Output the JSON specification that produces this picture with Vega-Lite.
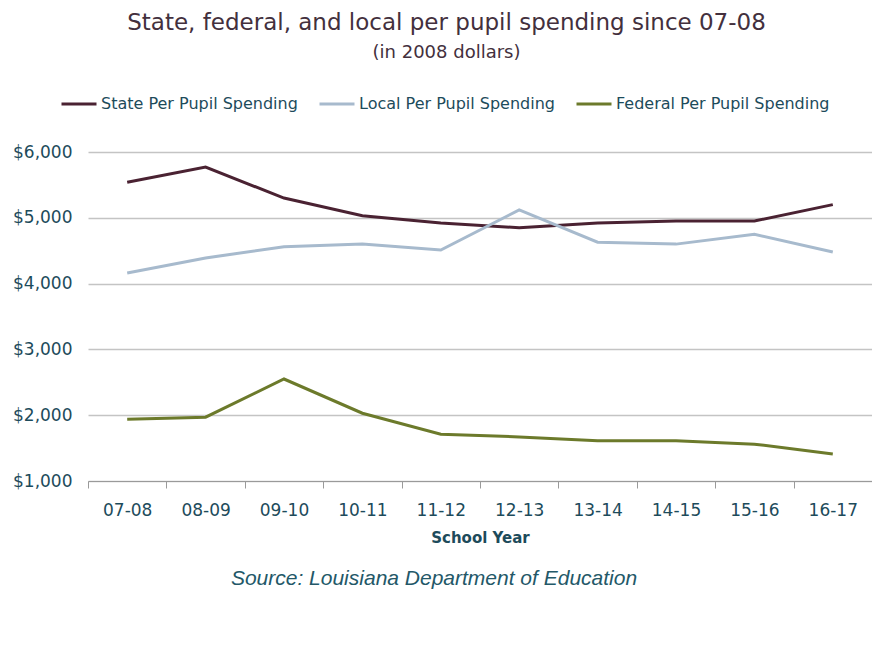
{
  "$schema": "https://vega.github.io/schema/vega-lite/v6.json",
  "background": "white",
  "padding": {"left": 12, "top": 12, "right": 0, "bottom": 0},
  "title": {
    "text": "State, federal, and local per pupil spending since 07-08",
    "subtitle": "(in 2008 dollars)",
    "font": "DejaVu Sans",
    "fontSize": 23,
    "fontWeight": "normal",
    "color": "#43303d",
    "subtitleFont": "DejaVu Sans",
    "subtitleFontSize": 18,
    "subtitleColor": "#43303d",
    "subtitlePadding": 9,
    "anchor": "middle",
    "dx": 4,
    "offset": 23
  },
  "config": {
    "view": {"stroke": null},
    "font": "DejaVu Sans"
  },
  "spacing": 14,
  "vconcat": [
    {
      "width": 784,
      "height": 329,
      "data": {
        "values": [
          {"year": "07-08", "series": "State Per Pupil Spending", "value": 5540},
          {"year": "08-09", "series": "State Per Pupil Spending", "value": 5770},
          {"year": "09-10", "series": "State Per Pupil Spending", "value": 5300},
          {"year": "10-11", "series": "State Per Pupil Spending", "value": 5030},
          {"year": "11-12", "series": "State Per Pupil Spending", "value": 4920},
          {"year": "12-13", "series": "State Per Pupil Spending", "value": 4850},
          {"year": "13-14", "series": "State Per Pupil Spending", "value": 4920},
          {"year": "14-15", "series": "State Per Pupil Spending", "value": 4950},
          {"year": "15-16", "series": "State Per Pupil Spending", "value": 4950},
          {"year": "16-17", "series": "State Per Pupil Spending", "value": 5200},
          {"year": "07-08", "series": "Local Per Pupil Spending", "value": 4160},
          {"year": "08-09", "series": "Local Per Pupil Spending", "value": 4390},
          {"year": "09-10", "series": "Local Per Pupil Spending", "value": 4560},
          {"year": "10-11", "series": "Local Per Pupil Spending", "value": 4600},
          {"year": "11-12", "series": "Local Per Pupil Spending", "value": 4510},
          {"year": "12-13", "series": "Local Per Pupil Spending", "value": 5120},
          {"year": "13-14", "series": "Local Per Pupil Spending", "value": 4630},
          {"year": "14-15", "series": "Local Per Pupil Spending", "value": 4600},
          {"year": "15-16", "series": "Local Per Pupil Spending", "value": 4750},
          {"year": "16-17", "series": "Local Per Pupil Spending", "value": 4480},
          {"year": "07-08", "series": "Federal Per Pupil Spending", "value": 1940},
          {"year": "08-09", "series": "Federal Per Pupil Spending", "value": 1970},
          {"year": "09-10", "series": "Federal Per Pupil Spending", "value": 2550},
          {"year": "10-11", "series": "Federal Per Pupil Spending", "value": 2030},
          {"year": "11-12", "series": "Federal Per Pupil Spending", "value": 1710},
          {"year": "12-13", "series": "Federal Per Pupil Spending", "value": 1670},
          {"year": "13-14", "series": "Federal Per Pupil Spending", "value": 1610},
          {"year": "14-15", "series": "Federal Per Pupil Spending", "value": 1610},
          {"year": "15-16", "series": "Federal Per Pupil Spending", "value": 1560},
          {"year": "16-17", "series": "Federal Per Pupil Spending", "value": 1410}
        ]
      },
      "mark": {"type": "line", "strokeWidth": 3},
      "encoding": {
        "x": {
          "field": "year",
          "type": "ordinal",
          "sort": null,
          "title": "School Year",
          "axis": {
            "labelAngle": 0,
            "labelFont": "DejaVu Sans",
            "labelFontSize": 17,
            "labelColor": "#1d4b5b",
            "labelPadding": 14,
            "domainColor": "#9a9a9a",
            "tickColor": "#9a9a9a",
            "tickSize": 7,
            "tickBand": "extent",
            "titleFont": "DejaVu Sans",
            "titleFontSize": 15,
            "titleFontWeight": "bold",
            "titleColor": "#1d4b5b",
            "titlePadding": 12
          }
        },
        "y": {
          "field": "value",
          "type": "quantitative",
          "scale": {"domain": [1000, 6000]},
          "title": null,
          "axis": {
            "values": [1000, 2000, 3000, 4000, 5000, 6000],
            "format": "$,.0f",
            "labelFont": "DejaVu Sans",
            "labelFontSize": 17,
            "labelColor": "#1d4b5b",
            "labelPadding": 16,
            "domain": false,
            "ticks": false,
            "gridColor": "#c4c4c4",
            "gridWidth": 1.5
          }
        },
        "color": {
          "field": "series",
          "type": "nominal",
          "scale": {
            "domain": ["State Per Pupil Spending", "Local Per Pupil Spending", "Federal Per Pupil Spending"],
            "range": ["#4a2232", "#a7bacd", "#6c7a2b"]
          },
          "legend": {
            "title": null,
            "orient": "none",
            "legendX": -28,
            "legendY": -67,
            "direction": "horizontal",
            "symbolType": "stroke",
            "symbolSize": 1225,
            "symbolStrokeWidth": 3,
            "labelFont": "DejaVu Sans",
            "labelFontSize": 16,
            "labelLimit": 0,
            "labelColor": "#1d4b5b",
            "labelOffset": 3,
            "columnPadding": 15
          }
        }
      }
    },
    {
      "width": 784,
      "height": 40,
      "data": {"values": [{"source": "Source: Louisiana Department of Education"}]},
      "mark": {
        "type": "text",
        "font": "Liberation Sans",
        "fontSize": 21,
        "fontStyle": "italic",
        "color": "#235868",
        "dx": -46
      },
      "encoding": {
        "text": {"field": "source", "type": "nominal"}
      }
    }
  ]
}
